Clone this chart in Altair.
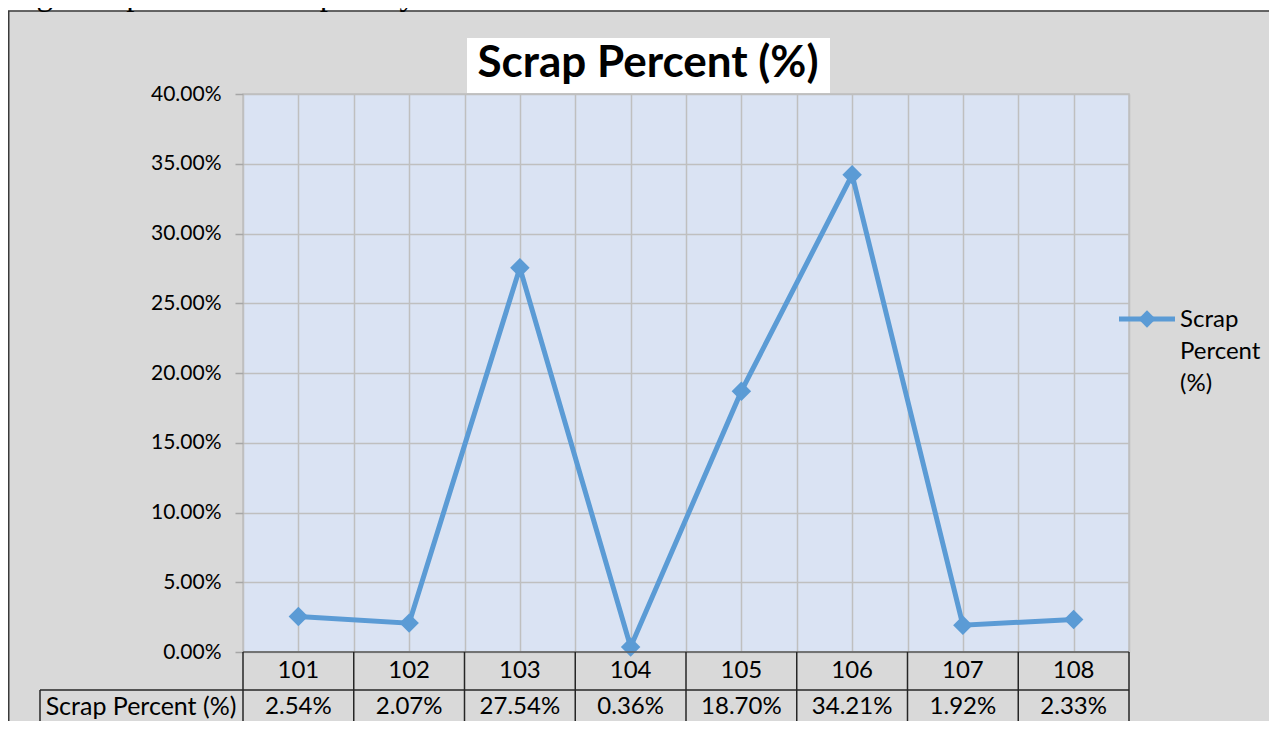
import altair as alt
import pandas as pd

# ---- data ----
categories = ["101", "102", "103", "104", "105", "106", "107", "108"]
scrap_pct = [2.54, 2.07, 27.54, 0.36, 18.70, 34.21, 1.92, 2.33]
series_name = "Scrap Percent (%)"
y_ticks = [0.0, 0.05, 0.10, 0.15, 0.20, 0.25, 0.30, 0.35, 0.40]
chart_title = "Scrap Percent (%)"
caption = "Fig 09 Operational scrap analyses"
legend_lines = "Scrap\nPercent\n(%)"

# ---- layout / style ----
W, H = 886, 558
FONT = "Lato"
BLUE = "#5b9bd5"
GRID = "#bfbfbf"
LINE = "#262626"
GRAY_BG = "#d9d9d9"

n = len(categories)
df = pd.DataFrame({
    "cat": categories,
    "pos": [i + 0.5 for i in range(n)],
    "value": [v / 100 for v in scrap_pct],
    "label": [f"{v:.2f}%" for v in scrap_pct],
})
bounds = pd.DataFrame({"pos": list(range(n + 1))})
one = pd.DataFrame({"k": [0]})

x_scale = alt.Scale(domain=[0, n], nice=False, zero=False)
x_axis = alt.Axis(values=[i * 0.5 for i in range(2 * n + 1)], grid=True, labels=False,
                  ticks=False, domain=False, title=None, gridColor=GRID, gridWidth=1.5)
X = alt.X("pos:Q", scale=x_scale, axis=x_axis)
Y = alt.Y("value:Q", scale=alt.Scale(domain=[0, 0.4], nice=False, zero=True),
          axis=alt.Axis(values=y_ticks, format=".2%", grid=True, gridColor=GRID, gridWidth=1.5,
                        domain=False, ticks=True, tickSize=8, tickColor="#a6a6a6", tickWidth=1.5,
                        labelFont=FONT, labelFontSize=21, labelColor="#000000",
                        labelPadding=14, title=None))

base = alt.Chart(df).encode(x=X, y=Y)
line = base.mark_line(color=BLUE, strokeWidth=5)
pts = base.mark_point(shape="diamond", filled=True, size=380, color=BLUE, opacity=1)

# ---- data table below the plot ----
TFS = 24
ROW1_Y, ROW_SEP_Y, ROW2_Y, TABLE_END = 577, 596, 613, 640
row1 = alt.Chart(df).mark_text(font=FONT, fontSize=TFS, color="#000000", baseline="middle").encode(
    x=X, y=alt.value(ROW1_Y), text="cat:N")
row2 = alt.Chart(df).mark_text(font=FONT, fontSize=TFS, color="#000000", baseline="middle").encode(
    x=X, y=alt.value(ROW2_Y), text="label:N")
header = alt.Chart(pd.DataFrame({"t": [series_name]})).mark_text(
    font=FONT, fontSize=25, color="#000000", baseline="middle").encode(
    x=alt.value(-102), y=alt.value(ROW2_Y), text="t:N")
vlines = alt.Chart(bounds).mark_rule(color=LINE, strokeWidth=1.5).encode(
    x=X, y=alt.value(H), y2=alt.value(TABLE_END))
hdr_left = alt.Chart(one).mark_rule(color=LINE, strokeWidth=1.5).encode(
    x=alt.value(-203), y=alt.value(ROW_SEP_Y), y2=alt.value(TABLE_END))
row_sep = alt.Chart(one).mark_rule(color=LINE, strokeWidth=1.5).encode(
    x=alt.value(-203), x2=alt.value(W), y=alt.value(ROW_SEP_Y))
axis_line = alt.Chart(one).mark_rule(color="#595959", strokeWidth=1.5).encode(
    x=alt.value(0), x2=alt.value(W), y=alt.value(H))

# ---- title box ----
title_box = alt.Chart(one).mark_rect(color="white").encode(
    x=alt.value(224), x2=alt.value(587), y=alt.value(-56), y2=alt.value(-1))
title_txt = alt.Chart(pd.DataFrame({"t": [chart_title]})).mark_text(
    font=FONT, fontSize=44, fontWeight="bold", color="#000000", baseline="alphabetic").encode(
    x=alt.value(405), y=alt.value(-17), text="t:N")

# ---- legend ----
leg_line = alt.Chart(one).mark_rule(color=BLUE, strokeWidth=5).encode(
    x=alt.value(876), x2=alt.value(932), y=alt.value(225))
leg_pt = alt.Chart(one).mark_point(shape="diamond", filled=True, size=300, color=BLUE, opacity=1).encode(
    x=alt.value(904), y=alt.value(225))
leg_txt = alt.Chart(pd.DataFrame({"t": [legend_lines]})).mark_text(
    font=FONT, fontSize=24, color="#000000", align="left", baseline="middle",
    lineBreak="\n", lineHeight=32).encode(
    x=alt.value(937), y=alt.value(226), text="t:N")

# ---- outer frame and cut-off caption ----
white_strip = alt.Chart(one).mark_rect(color="white").encode(
    x=alt.value(-240), x2=alt.value(1050), y=alt.value(-95), y2=alt.value(-83.5))
frame_top = alt.Chart(one).mark_rule(color="#3a3a3a", strokeWidth=1.5).encode(
    x=alt.value(-235), x2=alt.value(1050), y=alt.value(-83))
frame_left = alt.Chart(one).mark_rule(color="#3a3a3a", strokeWidth=1.5).encode(
    x=alt.value(-234.25), y=alt.value(-83), y2=alt.value(TABLE_END))
cap_txt = alt.Chart(pd.DataFrame({"t": [caption]})).mark_text(
    font="Liberation Serif", fontSize=33, color="#000000", align="left", baseline="alphabetic").encode(
    x=alt.value(-234), y=alt.value(-89.5), text="t:N")

chart = alt.layer(
    white_strip, frame_top, frame_left, cap_txt,
    title_box, title_txt,
    line, pts,
    axis_line, vlines, hdr_left, row_sep, row1, row2, header,
    leg_line, leg_pt, leg_txt,
).properties(
    width=W, height=H,
    autosize=alt.AutoSizeParams(type="none"),
    padding={"left": 235, "top": 86, "right": 140, "bottom": 69},
    background=GRAY_BG,
).configure_view(
    fill="#dae3f3", stroke=GRID, strokeWidth=1.5
)

chart.save("out.html", embed_options={"renderer": "svg", "actions": False})
